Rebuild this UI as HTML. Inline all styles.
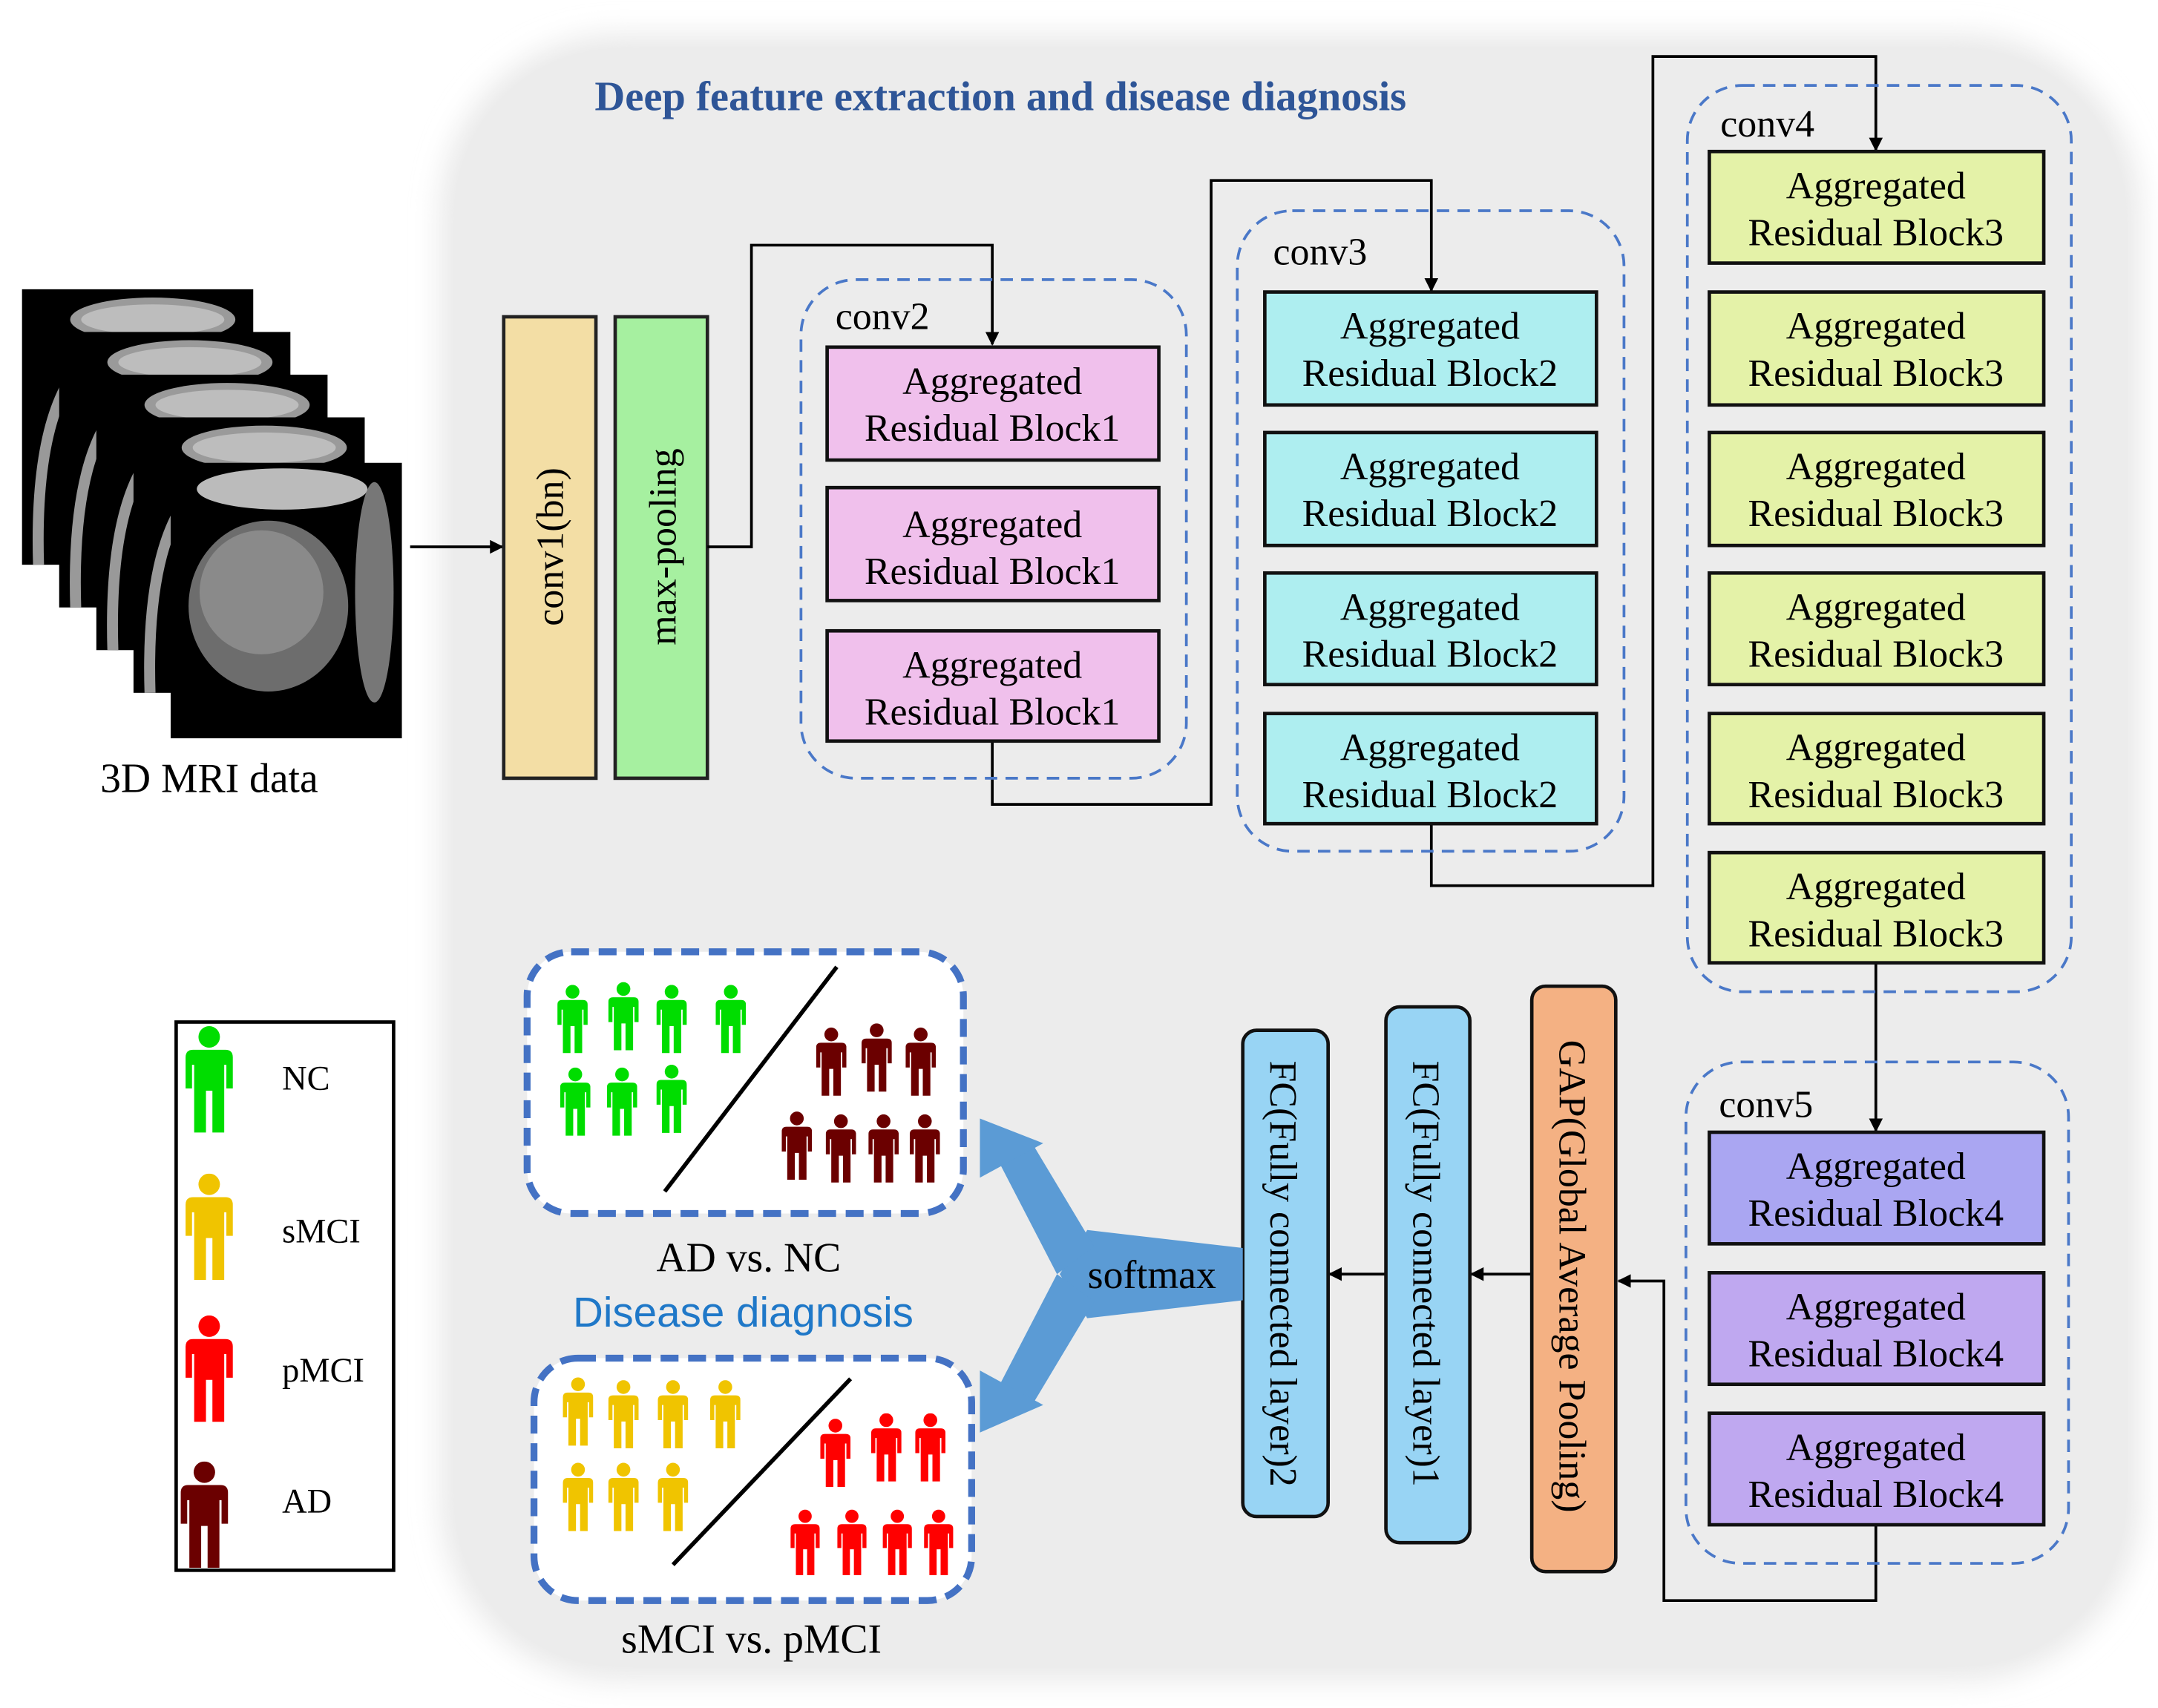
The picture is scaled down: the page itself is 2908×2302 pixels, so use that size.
<!DOCTYPE html>
<html><head><meta charset="utf-8"><style>html,body{margin:0;padding:0;background:#fff}svg{display:block}
.t{font-family:"Liberation Serif",serif;fill:#000}</style></head><body>
<svg width="2908" height="2302" viewBox="0 0 1568 1240" preserveAspectRatio="none" xmlns="http://www.w3.org/2000/svg">
<defs>
<symbol id="p" viewBox="0 0 44 100"><circle cx="22" cy="10" r="10"/><path d="M7,22 H37 Q44,22 44,29 V58 H38 V36 H36 V99 H25 V60 H19 V99 H8 V36 H6 V58 H0 V29 Q0,22 7,22Z"/></symbol>
<g id="mri"><rect x="0" y="0" width="168" height="200" fill="#000"/><ellipse cx="95" cy="22" rx="60" ry="16" fill="#9a9a9a"/><ellipse cx="95" cy="22" rx="52" ry="11" fill="#bdbdbd"/><path d="M12,200 Q8,70 60,40" stroke="#999" stroke-width="8" fill="none"/></g>
<marker id="a" markerWidth="10" markerHeight="10" refX="9" refY="5" orient="auto" markerUnits="userSpaceOnUse"><path d="M0,0 L10,5 L0,10Z" fill="#000"/></marker>
<filter id="bl"><feGaussianBlur stdDeviation="10"/></filter>
</defs>
<rect x="320" y="25" width="1235" height="1195" rx="130" fill="#e9e9e9" filter="url(#bl)"/>
<rect x="330" y="35" width="1215" height="1175" rx="120" fill="#ececec"/>
<text x="727" y="80" text-anchor="middle" font-family="Liberation Serif,serif" font-weight="bold" font-size="30.5" fill="#2e5597">Deep feature extraction and disease diagnosis</text>

<!-- MRI stack -->
<g>
<use href="#mri" x="16" y="210"/><use href="#mri" x="43" y="241"/><use href="#mri" x="70" y="272"/><use href="#mri" x="97" y="303"/>
<rect x="124" y="336" width="168" height="200" fill="#000"/>
<ellipse cx="205" cy="355" rx="62" ry="15" fill="#bbb"/>
<ellipse cx="195" cy="440" rx="58" ry="62" fill="#6d6d6d"/>
<ellipse cx="190" cy="430" rx="45" ry="45" fill="#8a8a8a"/>
<ellipse cx="272" cy="430" rx="14" ry="80" fill="#777"/>
<text class="t" x="152" y="575" text-anchor="middle" font-size="30">3D MRI data</text>
</g>
<line x1="298" y1="397" x2="365" y2="397" stroke="#000" stroke-width="2" marker-end="url(#a)"/>
<rect x="366" y="230" width="67" height="335" fill="#f3dea5" stroke="#222" stroke-width="2.5"/>
<rect x="447" y="230" width="67" height="335" fill="#a6f0a0" stroke="#222" stroke-width="2.5"/>
<text class="t" transform="translate(409,397) rotate(-90)" text-anchor="middle" font-size="28">conv1(bn)</text>
<text class="t" transform="translate(491,397) rotate(-90)" text-anchor="middle" font-size="28">max-pooling</text>

<g fill="none" stroke="#000" stroke-width="2">
<polyline points="514,397 546,397 546,178 721,178 721,250" marker-end="url(#a)"/>
<polyline points="721,538 721,584 880,584 880,131 1040,131 1040,211" marker-end="url(#a)"/>
<polyline points="1040,598 1040,643 1201,643 1201,41 1363,41 1363,109" marker-end="url(#a)"/>
<polyline points="1363,699 1363,821" marker-end="url(#a)"/>
<polyline points="1363,1107 1363,1162 1209,1162 1209,930 1176,930" marker-end="url(#a)"/>
<polyline points="1112,925 1069,925" marker-end="url(#a)"/>
<polyline points="1006,925 966,925" marker-end="url(#a)"/>
</g>

<g fill="none" stroke="#4a78c8" stroke-width="2" stroke-dasharray="9,6">
<rect x="582" y="203" width="280" height="362" rx="40"/>
<rect x="899" y="153" width="281" height="465" rx="40"/>
<rect x="1226" y="62" width="279" height="658" rx="40"/>
<rect x="1225" y="771" width="278" height="364" rx="40"/>
</g>
<g class="t" font-size="28">
<text class="t" x="607" y="239">conv2</text>
<text class="t" x="925" y="192">conv3</text>
<text class="t" x="1250" y="99">conv4</text>
<text class="t" x="1249" y="811">conv5</text>
</g>

<g stroke="#111" stroke-width="2.5">
<rect x="601" y="252" width="241" height="82" fill="#f0c0ec"/>
<rect x="601" y="354" width="241" height="82" fill="#f0c0ec"/>
<rect x="601" y="458" width="241" height="80" fill="#f0c0ec"/>
<rect x="919" y="212" width="241" height="82" fill="#aeeef0"/>
<rect x="919" y="314" width="241" height="82" fill="#aeeef0"/>
<rect x="919" y="416" width="241" height="81" fill="#aeeef0"/>
<rect x="919" y="518" width="241" height="80" fill="#aeeef0"/>
<rect x="1242" y="110" width="243" height="81" fill="#e4f2a8"/>
<rect x="1242" y="212" width="243" height="82" fill="#e4f2a8"/>
<rect x="1242" y="314" width="243" height="82" fill="#e4f2a8"/>
<rect x="1242" y="416" width="243" height="81" fill="#e4f2a8"/>
<rect x="1242" y="518" width="243" height="80" fill="#e4f2a8"/>
<rect x="1242" y="619" width="243" height="80" fill="#e4f2a8"/>
<rect x="1242" y="822" width="243" height="81" fill="#aaa6f2"/>
<rect x="1242" y="924" width="243" height="81" fill="#bfa8f0"/>
<rect x="1242" y="1026" width="243" height="81" fill="#bfa8f0"/>
</g>
<g class="t" font-size="28" text-anchor="middle">
<text x="721" y="286">Aggregated</text><text x="721" y="320">Residual Block1</text>
<text x="721" y="390">Aggregated</text><text x="721" y="424">Residual Block1</text>
<text x="721" y="492">Aggregated</text><text x="721" y="526">Residual Block1</text>
<text x="1039" y="246">Aggregated</text><text x="1039" y="280">Residual Block2</text>
<text x="1039" y="348">Aggregated</text><text x="1039" y="382">Residual Block2</text>
<text x="1039" y="450">Aggregated</text><text x="1039" y="484">Residual Block2</text>
<text x="1039" y="552">Aggregated</text><text x="1039" y="586">Residual Block2</text>
<text x="1363" y="144">Aggregated</text><text x="1363" y="178">Residual Block3</text>
<text x="1363" y="246">Aggregated</text><text x="1363" y="280">Residual Block3</text>
<text x="1363" y="348">Aggregated</text><text x="1363" y="382">Residual Block3</text>
<text x="1363" y="450">Aggregated</text><text x="1363" y="484">Residual Block3</text>
<text x="1363" y="552">Aggregated</text><text x="1363" y="586">Residual Block3</text>
<text x="1363" y="653">Aggregated</text><text x="1363" y="687">Residual Block3</text>
<text x="1363" y="856">Aggregated</text><text x="1363" y="890">Residual Block4</text>
<text x="1363" y="958">Aggregated</text><text x="1363" y="992">Residual Block4</text>
<text x="1363" y="1060">Aggregated</text><text x="1363" y="1094">Residual Block4</text>
</g>

<g stroke="#111" stroke-width="2.5">
<rect x="1113" y="716" width="61" height="425" rx="10" fill="#f4b183"/>
<rect x="1007" y="731" width="61" height="389" rx="10" fill="#98d4f4"/>
<rect x="903" y="748" width="62" height="353" rx="10" fill="#98d4f4"/>
</g>
<g class="t" font-size="28">
<text class="t" transform="translate(1133,755) rotate(90)">GAP(Global Average Pooling)</text>
<text class="t" transform="translate(1027,770) rotate(90)">FC(Fully connected layer)1</text>
<text class="t" transform="translate(923,770) rotate(90)">FC(Fully connected layer)2</text>
</g>

<!-- softmax Y -->
<g fill="#5b9bd5">
<polygon points="903,906 903,944 790,957 770,925 790,893"/>
<polygon points="795,905 768,925 725,842 750,830"/>
<polygon points="712,812 758,830 712,855"/>
<polygon points="768,925 795,945 750,1020 725,1008"/>
<polygon points="712,1040 712,995 758,1020"/>
</g>
<text class="t" x="837" y="935" text-anchor="middle" font-size="29">softmax</text>

<!-- disease boxes -->
<g fill="#fff" stroke="#4472c4" stroke-width="5" stroke-dasharray="13,7">
<rect x="383" y="691" width="317" height="190" rx="32"/>
<rect x="388" y="986" width="318" height="176" rx="32"/>
</g>
<line x1="483" y1="865" x2="608" y2="702" stroke="#000" stroke-width="3"/>
<line x1="489" y1="1136" x2="618" y2="1001" stroke="#000" stroke-width="3"/>
<g fill="#00dd00">
<use href="#p" x="405" y="715" width="22" height="50"/><use href="#p" x="442" y="713" width="22" height="50"/><use href="#p" x="477" y="715" width="22" height="50"/><use href="#p" x="520" y="715" width="22" height="50"/>
<use href="#p" x="407" y="775" width="22" height="50"/><use href="#p" x="441" y="775" width="22" height="50"/><use href="#p" x="477" y="773" width="22" height="50"/>
</g>
<g fill="#6b0000">
<use href="#p" x="593" y="745" width="22" height="52"/><use href="#p" x="626" y="742" width="22" height="52"/><use href="#p" x="658" y="745" width="22" height="52"/>
<use href="#p" x="568" y="806" width="22" height="52"/><use href="#p" x="600" y="808" width="22" height="52"/><use href="#p" x="631" y="808" width="22" height="52"/><use href="#p" x="661" y="808" width="22" height="52"/>
</g>
<g fill="#f0c400">
<use href="#p" x="409" y="1000" width="22" height="50"/><use href="#p" x="442" y="1002" width="22" height="50"/><use href="#p" x="478" y="1002" width="22" height="50"/><use href="#p" x="516" y="1002" width="22" height="50"/>
<use href="#p" x="409" y="1062" width="22" height="50"/><use href="#p" x="442" y="1062" width="22" height="50"/><use href="#p" x="478" y="1062" width="22" height="50"/>
</g>
<g fill="#ff0000">
<use href="#p" x="596" y="1030" width="22" height="50"/><use href="#p" x="633" y="1026" width="22" height="50"/><use href="#p" x="665" y="1026" width="22" height="50"/>
<use href="#p" x="574" y="1096" width="22" height="48"/><use href="#p" x="608" y="1096" width="22" height="48"/><use href="#p" x="641" y="1096" width="22" height="48"/><use href="#p" x="671" y="1096" width="22" height="48"/>
</g>
<text class="t" x="544" y="923" text-anchor="middle" font-size="30">AD vs. NC</text>
<text x="540" y="963" text-anchor="middle" font-family="Liberation Sans,sans-serif" font-size="30.5" fill="#1f78c8">Disease diagnosis</text>
<text class="t" x="546" y="1200" text-anchor="middle" font-size="30">sMCI vs. pMCI</text>

<!-- legend -->
<rect x="128" y="742" width="158" height="398" fill="#fff" stroke="#000" stroke-width="2.5"/>
<use href="#p" x="133" y="745" width="38" height="78" fill="#00dd00"/>
<use href="#p" x="132" y="852" width="40" height="78" fill="#f0c400"/>
<use href="#p" x="133" y="955" width="38" height="78" fill="#ff0000"/>
<use href="#p" x="130" y="1061" width="37" height="78" fill="#6b0000"/>
<g class="t" font-size="25">
<text class="t" x="205" y="791">NC</text>
<text class="t" x="205" y="902">sMCI</text>
<text class="t" x="205" y="1003">pMCI</text>
<text class="t" x="205" y="1098">AD</text>
</g>
</svg>
</body></html>
